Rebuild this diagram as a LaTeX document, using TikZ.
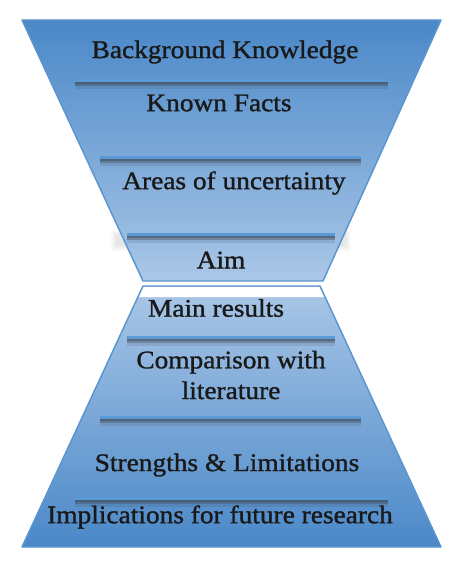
\documentclass[tikz,border=0pt]{standalone}
\usepackage{fontspec}
\newfontfamily\lblfont{Liberation Serif}[FakeBold=1.2, FakeStretch=1.08]
\begin{document}
\begin{tikzpicture}[x=0.75pt,y=-0.75pt]
\definecolor{edgeblue}{HTML}{5B95CF}
\definecolor{darkblue}{HTML}{4A88C8}
\definecolor{paleblue}{HTML}{AAC7E7}
\definecolor{barblue}{HTML}{5A9AD6}
\definecolor{shadowgray}{HTML}{3E4650}
\tikzset{
  label/.style={font=\lblfont\fontsize{19}{23}\selectfont, text=black!90, inner sep=0pt, align=center},
  funnel/.style={draw=edgeblue, line width=1.1pt, line join=round},
}
\newcommand{\divider}[3]{%
  \draw[shadowgray, opacity=0.15, line width=7pt] (#1,#3+3) -- (#2,#3+3);
  \draw[shadowgray, opacity=0.35, line width=4pt] (#1,#3+2.5) -- (#2,#3+2.5);
  \draw[shadowgray, opacity=0.45, line width=2pt] (#1,#3+2) -- (#2,#3+2);
  \draw[barblue, line width=1.6pt] (#1,#3-0.5) -- (#2,#3-0.5);
}
\useasboundingbox (0,0) rectangle (473,567);
\fill[white] (0,0) rectangle (473,567);

% soft shadows that spill past the funnel edges
\foreach \k in {0,...,5} {
  \fill[shadowgray, opacity=0.02] (116-\k,234-\k*0.6) rectangle (346+\k,246+\k);
}
\foreach \k in {0,...,4} {
  \fill[shadowgray, opacity=0.012] (92-\k,163-\k*0.6) rectangle (368+\k,174+\k);
}

% upper funnel
\shade[top color=darkblue, bottom color=paleblue] (22,20) -- (441,20) -- (323,281) -- (143,281) -- cycle;
\draw[funnel] (22,20) -- (441,20) -- (323,281) -- (143,281) -- cycle;

% lower funnel
\shade[top color=paleblue, bottom color=darkblue] (143,286) -- (320,286) -- (441,547) -- (22,547) -- cycle;
\fill[white] (143.5,287) -- (319.5,287) -- (325,297) -- (138,297) -- cycle;
\draw[funnel] (143,286) -- (320,286) -- (441,547) -- (22,547) -- cycle;

% dividers
\divider{75}{388}{81}
\divider{100}{361}{158}
\divider{127}{335}{235}
\divider{127}{335}{338}
\divider{100}{361}{418}
\divider{75}{388}{499}

% labels
\node[label] (bg)   at (225,52)  {Background Knowledge};
\node[label] (kf)   at (219,103) {Known Facts};
\node[label] (au)   at (234,183) {Areas of uncertainty};
\node[label] (aim)  at (221,260) {Aim};
\node[label] (mr)   at (216,308) {Main results};
\node[label] (cl)   at (231,375) {Comparison with\\literature};
\node[label] (sl)   at (227,465) {Strengths \& Limitations};
\node[label] (ifr)  at (220,517) {Implications for future research};
\end{tikzpicture}
\end{document}
